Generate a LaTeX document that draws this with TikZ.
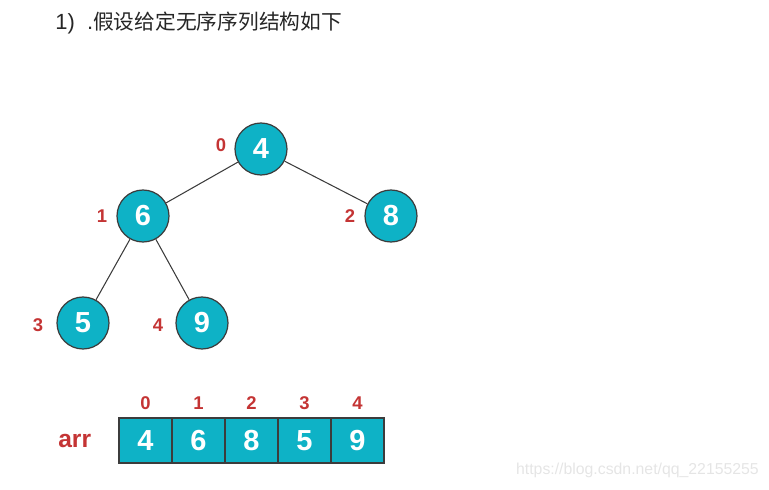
\documentclass[tikz,border=0pt]{standalone}
\usepackage{fontspec}
\setmainfont{Liberation Sans}
\newfontfamily\cjk{Noto Sans CJK SC}
\usetikzlibrary{positioning}
\definecolor{heapfill}{RGB}{14,178,198}
\definecolor{idxred}{RGB}{196,52,52}
\definecolor{edgegray}{RGB}{60,60,60}

\begin{document}
\begin{tikzpicture}[x=0.02cm,y=-0.02cm]
    \useasboundingbox (0,0) rectangle (769,490);
    \node[anchor=west,text=black!85,inner sep=0pt,font=\fontsize{12.5}{12.5}\selectfont] (title) at (55,23) {1)\ \ .{\cjk\fontsize{11.8}{12}\selectfont 假设给定无序序列结构如下}};
    \begin{scope}[every node/.style={circle,draw=edgegray,line width=0.7pt,fill=heapfill,minimum size=1.04cm,inner sep=0pt,text=white,font=\bfseries\fontsize{16.5}{16.5}\selectfont}]
    \node (a) at (261,149) {4};
    \node (b) at (143,216) {6};
    \node (c) at (391,216) {8};
    \node (d) at (83,323) {5};
    \node (e) at (202,323) {9};
    \end{scope}
    \begin{scope}[every node/.style={text=idxred,font=\bfseries\fontsize{10.5}{10.5}\selectfont}]
    \node (ia) at (221,145) {0};
    \node (ib) at (102,216) {1};
    \node (ic) at (350,216) {2};
    \node (id) at (38,325) {3};
    \node (ie) at (158,325) {4};
    \end{scope}
    \begin{scope}[every edge/.style={draw=edgegray,line width=0.6pt}]
    \path (a) edge (b);
    \path (a) edge (c);
    \path (b) edge (d);
    \path (b) edge (e);
    \end{scope}
    % array below the tree
    \begin{scope}[every node/.style={rectangle,draw=edgegray,line width=0.7pt,fill=heapfill,minimum width=1.06cm,minimum height=0.9cm,inner sep=0pt,text=white,font=\bfseries\fontsize{16.5}{16.5}\selectfont}]
    \node (r0) at (145.5,440.5) {4};
    \node (r1) at (198.5,440.5) {6};
    \node (r2) at (251.5,440.5) {8};
    \node (r3) at (304.5,440.5) {5};
    \node (r4) at (357.5,440.5) {9};
    \end{scope}
    \begin{scope}[every node/.style={text=idxred,font=\bfseries\fontsize{10.5}{10.5}\selectfont}]
    \node[above=1pt of r0] (j0) {0};
    \node[above=1pt of r1] (j1) {1};
    \node[above=1pt of r2] (j2) {2};
    \node[above=1pt of r3] (j3) {3};
    \node[above=1pt of r4] (j4) {4};
    \end{scope}
    \node[text=idxred,font=\bfseries\fontsize{14}{14}\selectfont,left=12pt of r0] (arr) {arr};
    \node[anchor=east,text=black!10,font=\fontsize{9}{9}\selectfont] (mark) at (765,470) {https://blog.csdn.net/qq\_22155255};
\end{tikzpicture}
\end{document}
